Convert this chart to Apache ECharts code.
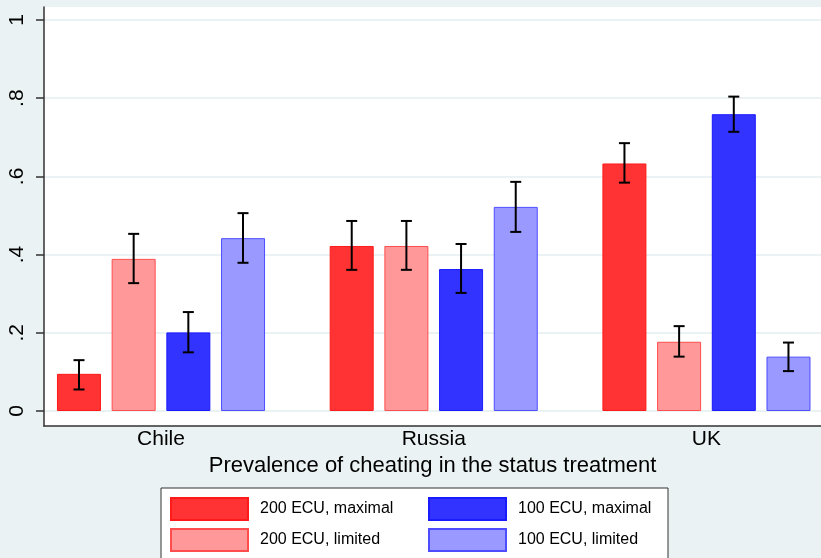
<!DOCTYPE html>
<html>
<head>
<meta charset="utf-8">
<script src="https://cdn.jsdelivr.net/npm/echarts@6/dist/echarts.min.js"></script>
<style>html,body{margin:0;padding:0;background:#EAF2F3;}#c{width:821px;height:558px;}</style>
</head>
<body>
<div id="c"></div>
<script>
// ---- data ----
const categories = ['Chile', 'Russia', 'UK'];
const categoryPos = [1, 2, 3];
const seriesNames = ['200 ECU, maximal', '200 ECU, limited', '100 ECU, maximal', '100 ECU, limited'];
const max200 = [0.095, 0.422, 0.633];
const lim200 = [0.389, 0.422, 0.177];
const max100 = [0.201, 0.363, 0.759];
const lim100 = [0.442, 0.522, 0.139];
const max200Lo = [0.055, 0.361, 0.584];
const max200Hi = [0.130, 0.486, 0.685];
const lim200Lo = [0.327, 0.361, 0.139];
const lim200Hi = [0.453, 0.486, 0.217];
const max100Lo = [0.150, 0.302, 0.714];
const max100Hi = [0.253, 0.427, 0.804];
const lim100Lo = [0.379, 0.458, 0.102];
const lim100Hi = [0.506, 0.586, 0.175];
const yTicks = [0, 0.2, 0.4, 0.6, 0.8, 1];
const yTickLabels = ['0', '.2', '.4', '.6', '.8', '1'];

const values = [max200, lim200, max100, lim100];
const lows = [max200Lo, lim200Lo, max100Lo, lim100Lo];
const highs = [max200Hi, lim200Hi, max100Hi, lim100Hi];
const fills = ['#FF3333', '#FF9999', '#3333FF', '#9999FF'];
const borders = ['#FF1A1A', '#FF4D4D', '#1A1AFF', '#4D4DFF'];

const BAR_W = 44, BAR_GAP = 10.67;

const barSeries = seriesNames.map((name, i) => ({
  name: name,
  type: 'bar',
  barWidth: BAR_W,
  barGap: (BAR_GAP / BAR_W * 100).toFixed(1) + '%',
  itemStyle: { color: fills[i], borderColor: borders[i], borderWidth: 1 },
  data: categoryPos.map((x, j) => [x, values[i][j]]),
  z: 2
}));

const errData = [];
seriesNames.forEach((n, i) => {
  categoryPos.forEach((x, j) => errData.push([x, lows[i][j], highs[i][j], i]));
});

const errSeries = {
  type: 'custom',
  name: 'ci',
  z: 5,
  data: errData,
  encode: { x: 0, y: [1, 2] },
  renderItem: function (params, api) {
    const x = api.value(0), lo = api.value(1), hi = api.value(2), si = api.value(3);
    const off = (si - 1.5) * (BAR_W + BAR_GAP);
    const pHi = api.coord([x, hi]);
    const pLo = api.coord([x, lo]);
    const cx = pHi[0] + off;
    const cap = 5.5;
    const st = { stroke: '#000', lineWidth: 2 };
    return {
      type: 'group',
      children: [
        { type: 'line', shape: { x1: cx, y1: pHi[1], x2: cx, y2: pLo[1] }, style: st },
        { type: 'line', shape: { x1: cx - cap, y1: pHi[1], x2: cx + cap, y2: pHi[1] }, style: st },
        { type: 'line', shape: { x1: cx - cap, y1: pLo[1], x2: cx + cap, y2: pLo[1] }, style: st }
      ]
    };
  }
};

const FONT = 'Liberation Sans';
const legendCommon = {
  orient: 'vertical',
  top: 497,
  padding: 0,
  height: 60,
  itemWidth: 77,
  itemHeight: 22,
  itemGap: 7,
  icon: 'rect',
  selectedMode: false,
  textStyle: { fontFamily: FONT, fontSize: 16, color: '#000', padding: [0, 0, 0, 7] }
};

const option = {
  backgroundColor: '#EAF2F3',
  animation: false,
  textStyle: { fontFamily: FONT },
  grid: { left: 44, right: 0, top: 7, bottom: 132, show: true, backgroundColor: '#FFFFFF', borderWidth: 0 },
  xAxis: {
    type: 'value',
    min: 0.571,
    max: 3.420,
    name: 'Prevalence of cheating in the status treatment',
    nameLocation: 'middle',
    nameGap: 27,
    nameTextStyle: { fontFamily: FONT, fontSize: 22, color: '#000' },
    axisLine: { show: true, onZero: false, lineStyle: { color: '#333', width: 1.5 } },
    axisTick: { show: false },
    splitLine: { show: false },
    axisLabel: {
      customValues: categoryPos,
      formatter: v => categories[Math.round(v) - 1],
      fontFamily: FONT, fontSize: 21, color: '#000', margin: 3
    }
  },
  yAxis: {
    type: 'value',
    min: -0.0384,
    max: 1.0332,
    axisLine: { show: true, onZero: false, lineStyle: { color: '#333', width: 1.5 } },
    axisTick: { show: true, customValues: yTicks, length: 8, lineStyle: { color: '#333', width: 1.5 } },
    splitLine: { show: true, lineStyle: { color: '#EAF2F3', width: 2 } },
    axisLabel: {
      customValues: yTicks,
      rotate: 90,
      formatter: v => yTickLabels[yTicks.findIndex(t => Math.abs(t - v) < 1e-6)],
      fontFamily: FONT, fontSize: 21, color: '#000', margin: 16
    }
  },
  legend: [
    Object.assign({}, legendCommon, { left: 170, data: [seriesNames[0], seriesNames[1]] }),
    Object.assign({}, legendCommon, { left: 428, data: [seriesNames[2], seriesNames[3]] })
  ],
  graphic: [{
    type: 'rect', z: -1, silent: true,
    shape: { x: 161, y: 488, width: 507, height: 100 },
    style: { fill: '#FFFFFF', stroke: '#333', lineWidth: 1 }
  }],
  series: barSeries.concat([errSeries])
};

const chart = echarts.init(document.getElementById('c'), null, { renderer: 'canvas' });
chart.setOption(option);
</script>
</body>
</html>
